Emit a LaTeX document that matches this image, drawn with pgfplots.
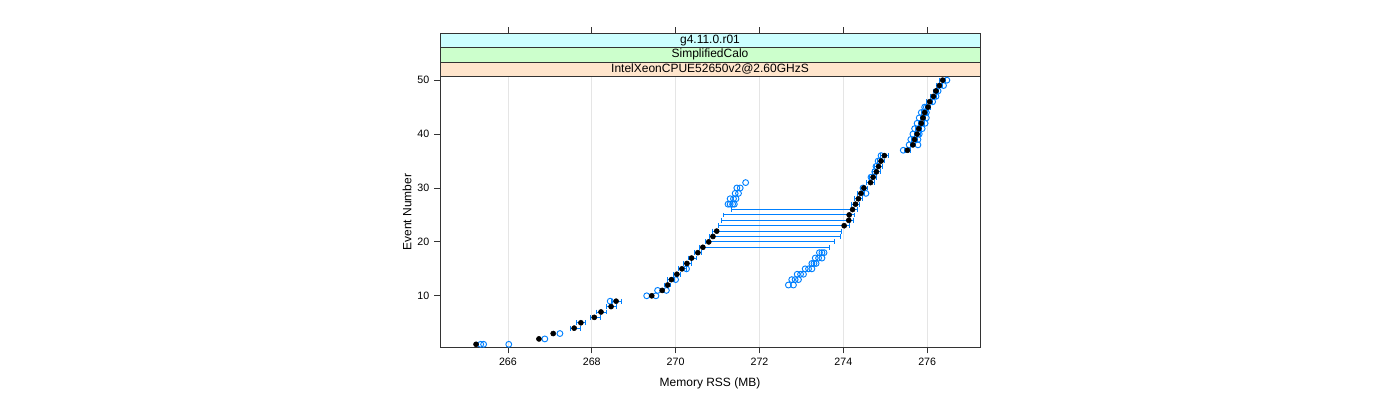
\documentclass[border=0pt]{standalone}
\usepackage{fontspec}
\setmainfont{Liberation Sans}
\usepackage{pgfplots}
\usepackage{pgfplotstable}
\pgfplotsset{compat=1.18}

\definecolor{ptblue}{HTML}{0080FF}
\definecolor{stripA}{HTML}{FFE5CC}
\definecolor{stripB}{HTML}{CCFFCC}
\definecolor{stripC}{HTML}{CCFFFF}

% black dot per event
\pgfplotstableread{
n x
1 265.24
2 266.74
3 267.08
4 267.58
5 267.74
6 268.06
7 268.22
8 268.46
9 268.58
10 269.43
11 269.68
12 269.81
13 269.90
14 270.03
15 270.15
16 270.27
17 270.38
18 270.53
19 270.65
20 270.79
21 270.89
22 270.98
23 274.02
24 274.13
25 274.14
26 274.22
27 274.29
28 274.36
29 274.42
30 274.49
31 274.65
32 274.71
33 274.79
34 274.84
35 274.90
36 274.98
37 275.53
38 275.66
39 275.70
40 275.76
41 275.80
42 275.86
43 275.90
44 275.94
45 276.02
46 276.06
47 276.15
48 276.21
49 276.29
50 276.37
}\blackdots

% bar per event (low, high)
\pgfplotstableread{
n lo hi
4 267.50 267.72
5 267.64 267.86
6 267.98 268.20
7 268.12 268.36
8 268.34 268.58
9 268.48 268.72
12 269.73 269.88
13 269.81 269.98
14 269.94 270.12
15 270.06 270.25
16 270.18 270.37
17 270.30 270.49
18 270.44 270.62
19 270.56 273.68
20 270.71 273.80
21 270.80 273.92
22 270.88 273.96
23 271.02 274.14
24 271.09 274.25
25 271.13 274.26
26 271.32 274.34
27 274.20 274.38
28 274.27 274.45
29 274.33 274.51
30 274.40 274.58
31 274.56 274.74
32 274.62 274.80
33 274.70 274.88
34 274.75 274.93
35 274.81 274.99
36 274.89 275.07
37 275.46 275.60
38 275.59 275.73
39 275.63 275.77
40 275.69 275.83
41 275.73 275.87
42 275.79 275.93
43 275.83 275.97
44 275.87 276.01
45 275.95 276.09
46 275.99 276.13
47 276.08 276.22
48 276.14 276.28
49 276.22 276.36
50 276.30 276.44
}\bars

% single runs (open circles)
\pgfplotstableread{
n x
1 265.35
1 265.42
1 266.02
2 266.88
3 267.24
9 268.44
10 269.31
10 269.53
11 269.57
11 269.78
12 272.69
12 272.81
13 270.00
13 272.77
13 272.85
13 272.93
14 272.90
14 272.98
14 273.05
15 270.26
15 273.09
15 273.17
15 273.25
16 273.25
16 273.30
16 273.35
17 273.33
17 273.41
17 273.49
18 273.43
18 273.49
18 273.54
27 271.25
27 271.30
27 271.36
27 271.40
28 271.30
28 271.38
28 271.44
29 271.42
29 271.50
29 274.54
30 271.46
30 271.54
30 274.47
31 271.67
32 274.66
33 274.75
34 274.78
35 274.83
36 274.90
37 275.43
38 275.57
38 275.78
39 275.61
39 275.78
40 275.66
40 275.81
41 275.70
41 275.88
42 275.76
42 275.95
43 275.81
43 275.98
44 275.86
44 275.98
45 275.94
45 275.98
46 276.13
47 276.21
48 276.26
49 276.39
50 276.47
}\bluecircles

\pgfplotsset{
    panel/.style={
        at={(330pt,39.5pt)}, anchor=south west,
        scale only axis, width=405pt,
        xmin=264.38, xmax=277.26,
        xtick={266,268,...,276},
        tick align=outside, major tick length=4.5pt,
        tick style={black!80, line width=0.6pt},
        tick label style={font=\fontsize{8}{9.6}\selectfont},
        /pgf/number format/assume math mode=true,
        /pgf/number format/1000 sep={},
    },
}

\begin{document}
\begin{tikzpicture}
\useasboundingbox (0,0) rectangle (1050pt,300pt);
% ticks on top of the strips
\begin{axis}[panel, height=235.7pt,
    ymin=0, ymax=1, ytick=\empty,
    hide y axis,
    axis x line*=top,
    axis line style={black!80, line width=0.6pt},
    xticklabels={},
]
\end{axis}
\begin{axis}[panel, height=203pt,
    ymin=0.44, ymax=50.65,
    ytick={10,20,30,40,50},
    xtick pos=left, ytick pos=left,
    xmajorgrids, major grid style={color=black!10, line width=0.5pt},
    axis line style={black!80, line width=0.6pt},
    xlabel={Memory RSS (MB)}, ylabel={Event Number},
    every axis x label/.style={at={(axis description cs:0.5,0)}, yshift=-27pt, anchor=center, font=\fontsize{9}{11}\selectfont},
    every axis y label/.style={at={(axis description cs:0,0.5)}, xshift=-24.75pt, rotate=90, anchor=center, font=\fontsize{9}{11}\selectfont},
    clip=false,
]
% bars and their caps
\addplot[ptblue, line width=0.7pt, quiver={u=\thisrow{hi}-\thisrow{lo}, v=0}, forget plot]
    table[x=lo, y=n] {\bars};
\addplot[only marks, mark=|, mark size=1.8pt, mark options={draw=ptblue, line width=0.7pt}, forget plot]
    table[x=lo, y=n] {\bars};
\addplot[only marks, mark=|, mark size=1.8pt, mark options={draw=ptblue, line width=0.7pt}, forget plot]
    table[x=hi, y=n] {\bars};
% single runs
\addplot[only marks, mark=o, mark size=2.2pt,
    mark options={draw=ptblue, line width=0.7pt}]
    table[x=x, y=n] {\bluecircles};
% black dots
\addplot[only marks, mark=*, mark size=1.9pt,
    mark options={draw=black, fill=black}]
    table[x=x, y=n] {\blackdots};

% strips
\filldraw[fill=stripA, draw=black!80, line width=0.6pt] (rel axis cs:0,1) rectangle (rel axis cs:1,1.0537);
\filldraw[fill=stripB, draw=black!80, line width=0.6pt] (rel axis cs:0,1.0537) rectangle (rel axis cs:1,1.1075);
\filldraw[fill=stripC, draw=black!80, line width=0.6pt] (rel axis cs:0,1.1075) rectangle (rel axis cs:1,1.1612);
\node[font=\fontsize{9}{11}\selectfont] at (rel axis cs:0.5,1.0269) {IntelXeonCPUE52650v2@2.60GHzS};
\node[font=\fontsize{9}{11}\selectfont] at (rel axis cs:0.5,1.0806) {SimplifiedCalo};
\node[font=\fontsize{9}{11}\selectfont] at (rel axis cs:0.5,1.1343) {g4.11.0.r01};
\end{axis}
\end{tikzpicture}
\end{document}
